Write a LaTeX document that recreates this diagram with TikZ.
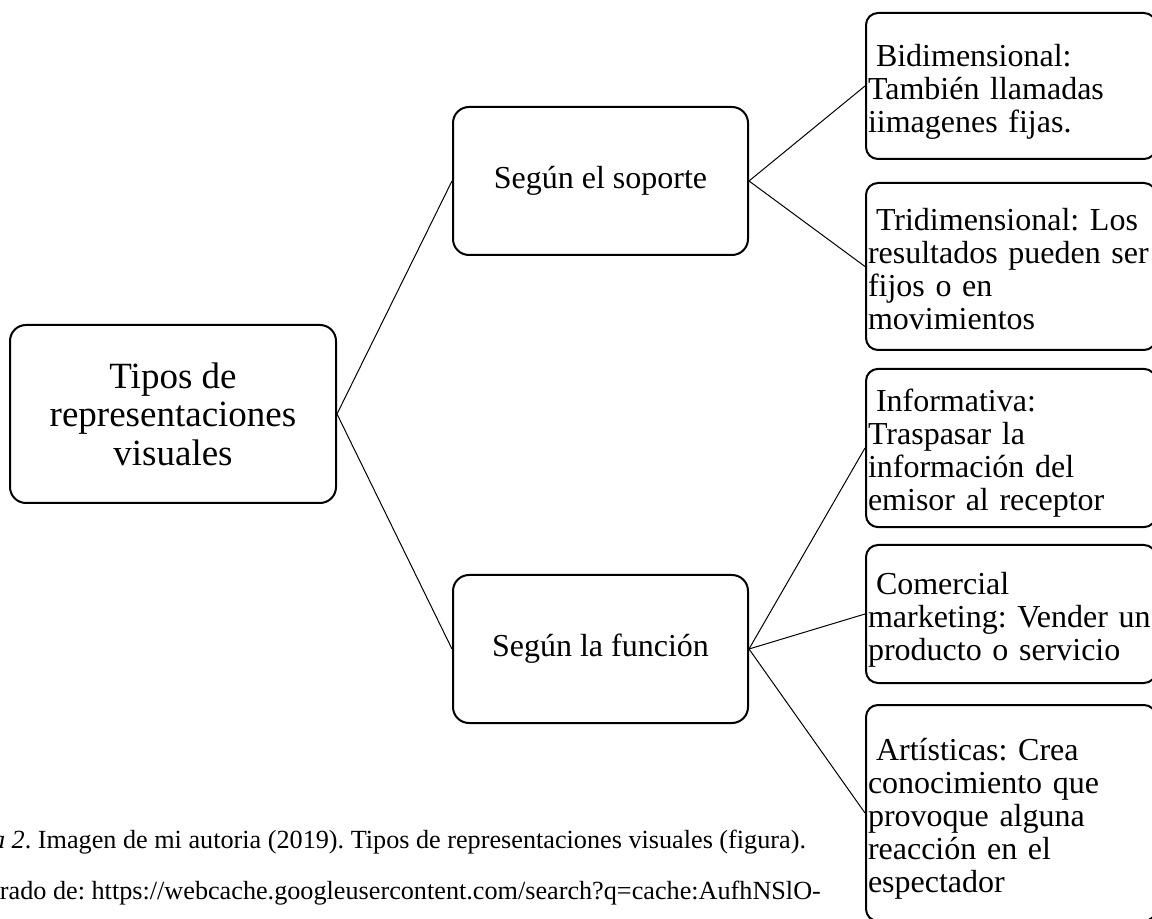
\documentclass[tikz,border=0pt]{standalone}
\usepackage{fontspec}
\setmainfont{Liberation Serif}
\usetikzlibrary{positioning}
\frenchspacing

\begin{document}
\begin{tikzpicture}[
      x=0.5pt, y=-0.5pt,
      Tipo/.style={draw, line width=1pt, rounded corners=8pt, align=center},
      Hoja/.style={
        draw, line width=1pt, rounded corners=6pt,
        minimum width=145pt, text width=143pt, inner xsep=1pt,
        align=left, font=\fontsize{16}{16.5}\selectfont,
        execute at begin node={\rule{0pt}{18pt}\hspace*{0.25em}},
        execute at end node={\strut},
      },
      Rama/.style={line width=0.5pt},
      Pie/.style={anchor=base west, inner sep=0pt, font=\fontsize{13.1}{16}\selectfont},
      ]
      \clip (0,0) rectangle (1152,919);

      \node[Tipo, minimum width=163pt, minimum height=89pt,
        font=\fontsize{18.5}{19.25}\selectfont] (tipos) at (173,414)
        {Tipos de\\representaciones\\visuales};

      \node[Tipo, minimum width=147.5pt, minimum height=74pt,
        font=\fontsize{16}{16.5}\selectfont] (soporte) at (600.5,181) {Según el soporte};
      \node[Tipo, minimum width=147.5pt, minimum height=74pt,
        font=\fontsize{16}{16.5}\selectfont] (funcion) at (600.5,649) {Según la función};

      % hojas de la derecha
      \node[Hoja, minimum height=73pt] (bidi) at (1011,86)
        {Bidimensional:\\También llamadas\\iimagenes fijas.};
      \node[Hoja, minimum height=83.5pt] (tridi) at (1011,266.5)
        {Tridimensional: Los\\resultados pueden ser\\fijos o en\\movimientos};
      \node[Hoja, minimum height=76pt] (info) at (1011,448)
        {Informativa:\\Traspasar la\\información del\\emisor al receptor};
      \node[Hoja, minimum height=69pt] (comer) at (1011,614)
        {Comercial\\marketing: Vender un\\producto o servicio};
      \node[Hoja, minimum height=108pt] (arte) at (1011,813)
        {Artísticas: Crea\\conocimiento que\\provoque alguna\\reacción en el\\espectador};

      \draw[Rama] (tipos.east) -- (soporte.west);
      \draw[Rama] (tipos.east) -- (funcion.west);
      \draw[Rama] (soporte.east) -- (bidi.west);
      \draw[Rama] (soporte.east) -- (tridi.west);
      \draw[Rama] (funcion.east) -- (info.west);
      \draw[Rama] (funcion.east) -- (comer.west);
      \draw[Rama] (funcion.east) -- (arte.west);

      \node[Pie] (pie1) at (-68,848)
        {\textit{Figura 2}. Imagen de mi autoria (2019). Tipos de representaciones visuales (figura).};
      \node[Pie] (pie2) at (-79,899)
        {Recuperado de: https://webcache.googleusercontent.com/search?q=cache:AufhNSlO-};
    \end{tikzpicture}
\end{document}
